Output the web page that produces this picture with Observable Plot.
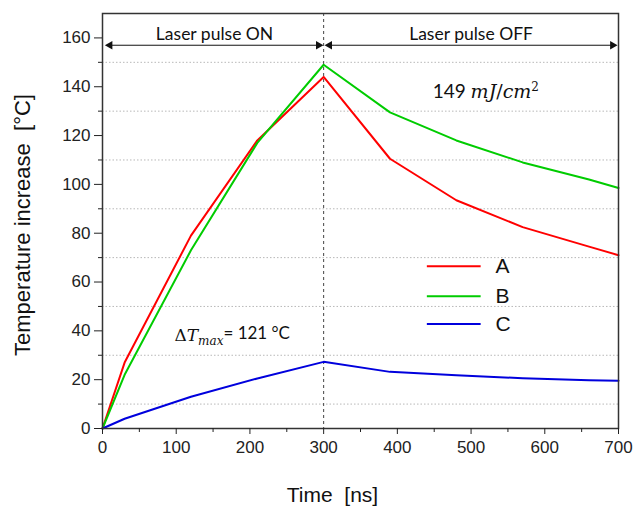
<!DOCTYPE html>
<html>
<head>
<meta charset="utf-8">
<script src="https://cdn.jsdelivr.net/npm/d3@7"></script>
<script src="https://cdn.jsdelivr.net/npm/@observablehq/plot@0.6"></script>
<style>
  body { margin: 0; background: #fff; }
</style>
</head>
<body>
<div id="chart"></div>
<script>
// Simulated temperature rise during and after a 300 ns laser pulse
const timeNs  = [0, 30, 120, 210, 300, 390, 480, 570, 660, 700];
const seriesA = [0, 27, 79, 118, 144, 110.5, 93.5, 82.5, 74.5, 71];
const seriesB = [0, 22, 73, 117, 149, 129.5, 118, 109, 102, 98.5];
const seriesC = [0, 4, 13, 20.5, 27.3, 23.2, 21.8, 20.6, 19.8, 19.6];

const seriesNames  = ["A", "B", "C"];
const seriesColors = ["#ff0000", "#00cc00", "#0000dd"];
const legendY      = [66.5, 54.2, 42.8];

const yMajorTicks = [0, 20, 40, 60, 80, 100, 120, 140, 160];
const yMinorTicks = [10, 30, 50, 70, 90, 110, 130, 150];
const xMajorTicks = [0, 100, 200, 300, 400, 500, 600, 700];
const xMinorTicks = [50, 150, 250, 350, 450, 550, 650];

const pulseEnd = 300;
const phaseLabels = ["Laser pulse ON", "Laser pulse OFF"];
const phaseSpans  = [[10, 293], [308, 692]];
const phaseCenter = [152, 500];

const fluenceText = "149 mJ/cm2";
const deltaText = "dT = 121 °C";

// long-format rows for the line mark
const seriesValues = [seriesA, seriesB, seriesC];
const rows = seriesNames.flatMap((name, k) =>
  timeNs.map((t, i) => ({series: name, t, v: seriesValues[k][i]})));

const legendRows = seriesNames.map((name, k) => ({name, y: legendY[k]}));
const arrowRows = phaseSpans.map(([a, b]) => ({x1: a, x2: b}));
const arrowHeads = phaseSpans.flatMap(([a, b]) => [{x: a, dir: -90}, {x: b, dir: 90}]);
const arrowLevel = 157;

const labelFont = "'Liberation Sans', Arial, sans-serif";
const noteFont = "Lato, 'Open Sans', sans-serif";

const chart = Plot.plot({
  width: 634,
  height: 515,
  marginLeft: 102,
  marginRight: 16,
  marginTop: 13,
  marginBottom: 87,
  style: {fontFamily: labelFont, fontSize: "17px", color: "#222", background: "#fff"},
  x: {domain: [0, 700]},
  y: {domain: [0, 170]},
  color: {domain: seriesNames, range: seriesColors},
  marks: [
    Plot.gridY(yMinorTicks, {stroke: "#b8b8b8", strokeOpacity: 1, strokeDasharray: "1.5,2"}),
    Plot.ruleX([pulseEnd], {stroke: "#444", strokeDasharray: "3,3", strokeWidth: 1}),
    Plot.line(rows, {x: "t", y: "v", z: "series", stroke: "series", strokeWidth: 2}),
    Plot.frame({stroke: "#333", strokeWidth: 1.5}),
    Plot.axisY(yMajorTicks, {tickSize: 8, tickPadding: 4, fontSize: 17, label: null}),
    Plot.axisY(yMinorTicks, {tickSize: 4, tickFormat: () => "", label: null}),
    Plot.axisX(xMajorTicks, {tickSize: 6, tickPadding: 6, fontSize: 17, label: null}),
    Plot.axisX(xMinorTicks, {tickSize: 4, tickFormat: () => "", label: null}),
    // pulse phase arrows
    Plot.link(arrowRows, {x1: "x1", x2: "x2", y1: arrowLevel, y2: arrowLevel, stroke: "#111", strokeWidth: 1}),
    Plot.dot(arrowHeads, {x: "x", y: arrowLevel, symbol: "triangle", r: 3.2, fill: "#111", stroke: null, rotate: "dir"}),
    Plot.text(phaseLabels, {x: (d, i) => phaseCenter[i], y: 161.5, text: d => d, fontFamily: noteFont, fontSize: 17.5, fill: "#111"}),
    // fluence and peak-difference notes (rich text filled in below)
    Plot.text([fluenceText], {x: 520, y: 138, fontFamily: noteFont, fontSize: 19, fill: "#111"}),
    Plot.text([deltaText], {x: 176, y: 38, fontFamily: noteFont, fontSize: 17, fill: "#111"}),
    // legend
    Plot.link(legendRows, {x1: 440, x2: 513, y1: "y", y2: "y", stroke: "name", strokeWidth: 2}),
    Plot.text(legendRows, {x: 533, y: "y", text: "name", textAnchor: "start", fontSize: 21, fill: "#111"}),
    // axis titles
    Plot.text(["Temperature increase\u00a0 [°C]"], {frameAnchor: "left", textAnchor: "middle", rotate: -90, dx: -80, dy: 4, fontSize: 22, fill: "#111"}),
    Plot.text(["Time\u00a0 [ns]"], {frameAnchor: "bottom", x: 312, dy: 73, fontSize: 21, fill: "#111"})
  ]
});

document.getElementById("chart").append(chart);

// rich text for the two notes
const svg = d3.select(chart);
const mathFont = "'DejaVu Serif', 'Liberation Serif', serif";
const findText = s => svg.selectAll("text").filter(function () { return this.textContent === s; });

const fluence = findText(fluenceText);
fluence.text(null);
fluence.append("tspan").text("149 ");
fluence.append("tspan").attr("font-family", mathFont).attr("font-style", "italic").text("mJ");
fluence.append("tspan").attr("font-family", mathFont).text("/");
fluence.append("tspan").attr("font-family", mathFont).attr("font-style", "italic").text("cm");
fluence.append("tspan").attr("font-family", mathFont).attr("font-size", 12).attr("dy", "-0.6em").text("2");

const delta = findText(deltaText);
delta.text(null);
delta.append("tspan").attr("font-family", mathFont).text("Δ");
delta.append("tspan").attr("font-family", mathFont).attr("font-style", "italic").text("T");
delta.append("tspan").attr("font-family", mathFont).attr("font-style", "italic").attr("font-size", 12).attr("dy", "0.35em").text("max");
delta.append("tspan").attr("dy", "-0.35em").text("= 121 °C");
</script>
</body>
</html>
